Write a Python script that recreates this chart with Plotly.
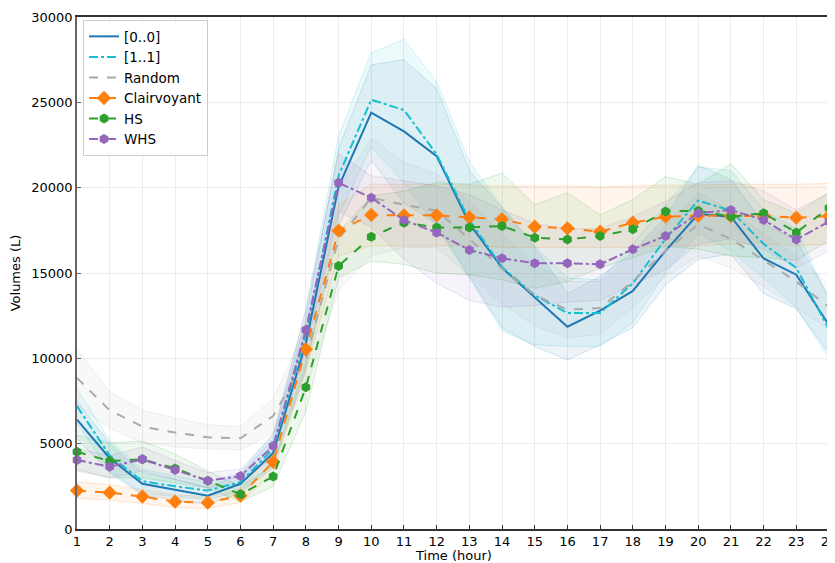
import plotly.graph_objects as go

hours = list(range(1, 25))

m00_mean = [6400, 4150, 2650, 2300, 1950, 2650, 4450, 10900, 20050, 24400, 23300, 21850, 17900, 15300, 13600, 11850, 12800, 13950, 16300, 18450, 18300, 15850, 14900, 11950]
m00_upper = [7500, 5000, 3300, 2900, 2450, 3200, 5300, 12300, 22300, 27200, 27500, 25800, 21000, 18800, 16500, 13800, 14800, 16200, 18300, 21300, 20500, 17900, 16900, 13600]
m00_lower = [5300, 3300, 2000, 1700, 1450, 2100, 3600, 9400, 17800, 21600, 19100, 17900, 14800, 11800, 10700, 9900, 10800, 11800, 14300, 15800, 16100, 13800, 12900, 10300]

m11_mean = [7200, 4300, 2800, 2500, 2250, 2750, 4700, 11400, 20700, 25150, 24550, 21950, 18100, 15350, 13700, 12650, 12650, 14400, 17000, 19250, 18650, 16700, 15300, 11700]
m11_upper = [8200, 5200, 3500, 3100, 2750, 3300, 5600, 12900, 23000, 27900, 28700, 26200, 21500, 18900, 16600, 14700, 14600, 16700, 19000, 21200, 21000, 18700, 17600, 13400]
m11_lower = [6200, 3400, 2100, 1900, 1750, 2200, 3800, 9900, 18400, 22400, 20300, 17700, 14700, 11600, 10800, 10700, 10700, 12100, 15000, 17300, 16300, 14700, 13000, 10000]

rnd_mean = [8850, 6950, 6000, 5650, 5370, 5320, 6620, 10000, 17000, 19400, 19000, 18650, 17000, 15250, 13700, 12850, 12950, 14500, 16300, 17850, 17000, 15750, 14500, 13000]
rnd_upper = [10500, 8050, 6950, 6500, 6100, 6000, 7650, 11800, 20000, 22900, 21500, 20800, 19200, 17300, 15500, 14500, 14500, 16000, 17800, 19700, 18700, 17300, 16000, 14300]
rnd_lower = [7250, 5900, 5050, 4800, 4700, 4650, 5600, 8200, 14000, 16000, 16500, 16500, 14800, 13200, 11900, 11200, 11400, 13000, 14800, 16000, 15300, 14200, 13000, 11700]

clv_mean = [2250, 2130, 1900, 1600, 1540, 1950, 3940, 10530, 17480, 18400, 18380, 18380, 18260, 18150, 17710, 17620, 17420, 17950, 18300, 18360, 18340, 18340, 18240, 18340]
clv_upper = [2750, 2600, 2300, 2000, 1900, 2350, 4600, 11800, 19000, 20200, 20200, 20200, 20150, 20100, 20100, 20100, 20050, 20100, 20150, 20150, 20200, 20200, 20200, 20250]
clv_lower = [1800, 1700, 1500, 1250, 1200, 1550, 3300, 9300, 16000, 16600, 16600, 16600, 16600, 16500, 16500, 16500, 16500, 16500, 16600, 16600, 16700, 16700, 16600, 16700]

hs_mean = [4530, 3980, 4080, 3550, 2830, 2030, 3070, 8300, 15410, 17130, 17950, 17670, 17670, 17750, 17070, 16970, 17170, 17560, 18610, 18650, 18300, 18500, 17380, 18810]
hs_upper = [5500, 5050, 5150, 4400, 3400, 2500, 3700, 9700, 17400, 19500, 19800, 20300, 20200, 20850, 19000, 19700, 18400, 19300, 20650, 20200, 21400, 19300, 18500, 19700]
hs_lower = [3500, 3000, 3000, 2700, 2400, 1600, 2500, 6900, 14700, 15700, 15500, 15000, 14900, 14600, 14100, 14500, 15300, 15900, 16550, 16400, 16000, 15900, 15750, 16900]

whs_mean = [4040, 3650, 4080, 3460, 2830, 3100, 4860, 11660, 20290, 19410, 18100, 17360, 16350, 15860, 15570, 15570, 15510, 16390, 17170, 18500, 18690, 18100, 16970, 18010]
whs_upper = [4700, 4300, 4800, 4000, 3300, 3500, 5500, 12800, 22000, 20700, 20400, 20100, 19600, 18700, 17900, 17600, 17600, 18300, 19200, 20300, 20400, 19800, 18700, 19700]
whs_lower = [3400, 3000, 3400, 2900, 2400, 2700, 4200, 10500, 18600, 17700, 15800, 14400, 13400, 13000, 13100, 13300, 13400, 14300, 15200, 16700, 17000, 16400, 15300, 16300]

series = [
    dict(name="[0..0]", mean=m00_mean, up=m00_upper, lo=m00_lower, rgb=(31, 119, 180), dash="solid", marker=None),
    dict(name="[1..1]", mean=m11_mean, up=m11_upper, lo=m11_lower, rgb=(23, 190, 207), dash="dashdot", marker=None),
    dict(name="Random", mean=rnd_mean, up=rnd_upper, lo=rnd_lower, rgb=(170, 170, 170), dash="dash", marker=None),
    dict(name="Clairvoyant", mean=clv_mean, up=clv_upper, lo=clv_lower, rgb=(255, 127, 14), dash="dash", marker="diamond"),
    dict(name="HS", mean=hs_mean, up=hs_upper, lo=hs_lower, rgb=(44, 160, 44), dash="dash", marker="hexagon"),
    dict(name="WHS", mean=whs_mean, up=whs_upper, lo=whs_lower, rgb=(148, 103, 189), dash="dashdot", marker="hexagon"),
]

fig = go.Figure()

for s in series:
    r, g, b = s["rgb"]
    edge = f"rgba({r},{g},{b},0.18)"
    fillc = f"rgba({r},{g},{b},0.08)"
    fig.add_trace(go.Scatter(x=hours, y=s["up"], mode="lines", line=dict(color=edge, width=1),
                             showlegend=False, hoverinfo="skip"))
    fig.add_trace(go.Scatter(x=hours, y=s["lo"], mode="lines", line=dict(color=edge, width=1),
                             fill="tonexty", fillcolor=fillc, showlegend=False, hoverinfo="skip"))

for s in series:
    r, g, b = s["rgb"]
    col = f"rgb({r},{g},{b})"
    kw = dict(x=hours, y=s["mean"], name=s["name"],
              line=dict(color=col, width=2, dash=s["dash"]), cliponaxis=False)
    if s["marker"]:
        kw["mode"] = "lines+markers"
        kw["marker"] = dict(symbol=s["marker"], size=11 if s["marker"] == "diamond" else 10, color=col)
    else:
        kw["mode"] = "lines"
    fig.add_trace(go.Scatter(**kw))

fig.update_layout(
    width=827, height=555,
    margin=dict(l=69, r=6, t=9, b=34, autoexpand=False),
    paper_bgcolor="white", plot_bgcolor="white",
    font=dict(family="DejaVu Sans", size=13, color="black"),
    showlegend=True,
    legend=dict(x=0.008, y=0.994, xanchor="left", yanchor="top", traceorder="normal",
                bgcolor="rgba(255,255,255,0.85)", bordercolor="#cccccc", borderwidth=1,
                font=dict(size=13.5), tracegroupgap=0, itemwidth=30),
    annotations=[dict(text="Time (hour)", xref="paper", yref="paper", x=0.5, y=0,
                      xanchor="center", yanchor="middle", yshift=-26, showarrow=False,
                      font=dict(size=13))],
)

fig.update_xaxes(
    range=[1, 24], tickmode="array", tickvals=hours, ticktext=[str(h) for h in hours],
    showgrid=True, gridcolor="#ececec", gridwidth=1,
    showline=True, linecolor="#333333", linewidth=1.5, mirror=True,
    ticks="inside", ticklen=4, tickcolor="#333333", automargin=False,
    ticklabeloverflow="allow",
    zeroline=False,
)
fig.update_yaxes(
    range=[0, 30000], tickvals=[0, 5000, 10000, 15000, 20000, 25000, 30000],
    ticktext=["0", "5000", "10000", "15000", "20000", "25000", "30000"],
    showgrid=True, gridcolor="#ececec", gridwidth=1,
    showline=True, linecolor="#666666", linewidth=1.5, mirror=True,
    ticks="inside", ticklen=4, tickcolor="#666666", automargin=False,
    ticklabeloverflow="allow",
    title=dict(text="Volumes (L)", font=dict(size=13), standoff=8),
    zeroline=False,
)

fig.write_html("out.html")
